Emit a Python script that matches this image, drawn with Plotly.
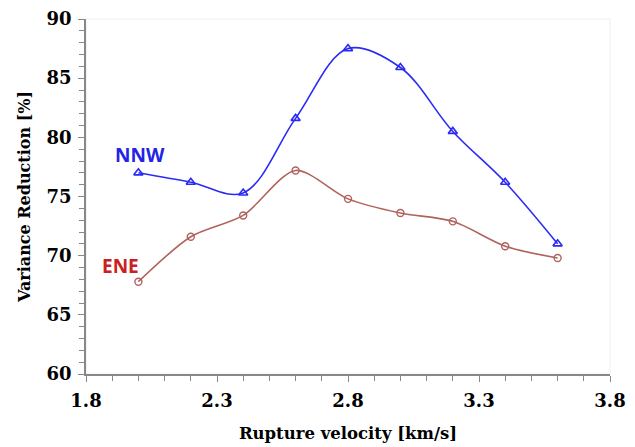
import plotly.graph_objects as go

velocity = [2.0, 2.2, 2.4, 2.6, 2.8, 3.0, 3.2, 3.4, 3.6]
nnw_vr = [77.0, 76.2, 75.3, 81.6, 87.5, 85.9, 80.5, 76.2, 71.0]
ene_vr = [67.8, 71.6, 73.4, 77.2, 74.8, 73.6, 72.9, 70.8, 69.8]
x_ticks = [1.8, 2.3, 2.8, 3.3, 3.8]
y_ticks = [60, 65, 70, 75, 80, 85, 90]

fig = go.Figure()
fig.add_trace(go.Scatter(
    x=velocity, y=nnw_vr, mode="lines+markers", name="NNW",
    line=dict(color="#2b2bf5", width=1.6, shape="spline", smoothing=1.0),
    marker=dict(symbol="triangle-up-open", size=8, color="#2b2bf5", line=dict(width=1.6)),
))
fig.add_trace(go.Scatter(
    x=velocity, y=ene_vr, mode="lines+markers", name="ENE",
    line=dict(color="#b0625c", width=1.6, shape="spline", smoothing=0.8),
    marker=dict(symbol="circle-open", size=7, color="#b0625c", line=dict(width=1.4)),
))

fig.add_annotation(x=2.005, y=78.5, text="<b>NNW</b>", showarrow=False,
                   font=dict(family="Open Sans, Liberation Sans", size=19, color="#2323e6"),
                   xref="x", yref="y")
fig.add_annotation(x=1.932, y=69.1, text="<b>ENE</b>", showarrow=False,
                   font=dict(family="Open Sans, Liberation Sans", size=19, color="#cc2020"),
                   xref="x", yref="y")

fig.add_shape(type="rect", xref="paper", yref="paper", x0=0, y0=0, x1=1, y1=1,
              line=dict(color="#eeeeee", width=1), layer="below")

serif = "DejaVu Serif, serif"
fig.update_layout(
    width=635, height=447,
    margin=dict(l=78, r=33, t=11, b=81),
    paper_bgcolor="white", plot_bgcolor="white",
    showlegend=False,
    xaxis=dict(
        range=[1.8, 3.8], tickvals=x_ticks, ticktext=[str(v) for v in x_ticks],
        showgrid=False, zeroline=False, automargin=False,
        showline=True, linecolor="#888888", linewidth=1.5,
        ticks="outside", ticklen=6, tickcolor="#888888", tickwidth=1.2,
        ticklabelstandoff=4,
        minor=dict(dtick=0.1, ticks="outside", ticklen=5, tickcolor="#888888", tickwidth=1.2, showgrid=False),
        tickfont=dict(family=serif, size=18, color="black", weight="bold"),
        title=dict(text="Rupture velocity [km/s]", standoff=17,
                   font=dict(family=serif, size=16.5, color="black", weight="bold")),
    ),
    yaxis=dict(
        range=[60, 90], tickvals=y_ticks, ticktext=[str(v) for v in y_ticks],
        showgrid=False, zeroline=False, automargin=False,
        showline=True, linecolor="#888888", linewidth=1.5,
        ticks="outside", ticklen=6, tickcolor="#888888", tickwidth=1.2,
        ticklabelstandoff=3,
        minor=dict(dtick=1, ticks="outside", ticklen=5, tickcolor="#888888", tickwidth=1.2, showgrid=False),
        tickfont=dict(family=serif, size=18, color="black", weight="bold"),
        title=dict(text="Variance Reduction [%]", standoff=12,
                   font=dict(family=serif, size=16, color="black", weight="bold")),
    ),
)

fig.write_html("out.html")
